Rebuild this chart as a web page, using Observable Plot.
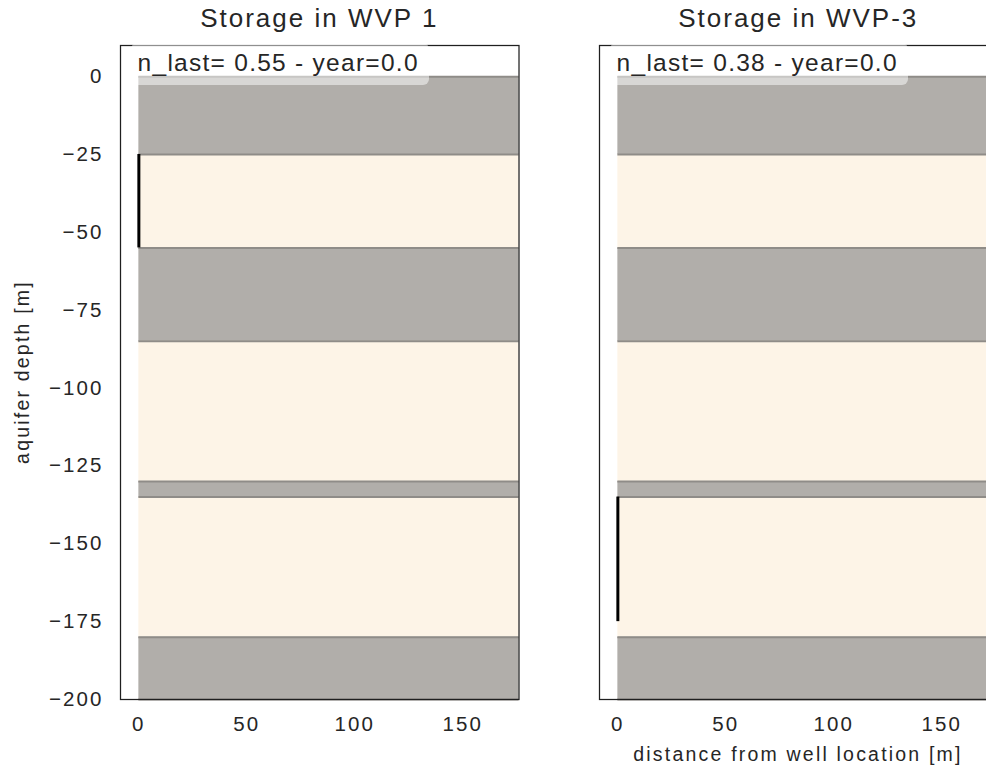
<!DOCTYPE html>
<html><head><meta charset="utf-8">
<script src="https://cdn.jsdelivr.net/npm/d3@7"></script>
<script src="https://cdn.jsdelivr.net/npm/@observablehq/plot@0.6"></script>
<style>
html,body{margin:0;padding:0;background:#fff;}
#fig{position:relative;width:986px;height:769px;overflow:hidden;font-family:'Liberation Sans',Arial,sans-serif;color:#262626;}
#fig svg{position:absolute;top:0;}
.title{position:absolute;top:5px;font-size:26px;line-height:26px;letter-spacing:2px;text-align:center;white-space:nowrap;}
.legend{position:absolute;top:43px;height:42px;box-sizing:border-box;padding:6.7px 10px 0 6.6px;font-size:24.5px;line-height:25px;letter-spacing:1.27px;background:rgba(255,255,255,0.5);border-radius:6px;white-space:nowrap;}
.axlabel{position:absolute;font-size:19.5px;line-height:20px;letter-spacing:2.2px;text-align:center;white-space:nowrap;}
</style></head>
<body><div id="fig"></div>
<script>
// ---- data ----
const panelTitles = ["Storage in WVP 1", "Storage in WVP-3"];
const nLast = [0.55, 0.38];
const years = [0.0, 0.0];
const screenTop = [-25, -135];
const screenBottom = [-55, -175];
const layerTop = [0, -25, -55, -85, -130, -135, -180];
const layerBottom = [-25, -55, -85, -130, -135, -180, -200];
const layerKind = ["clay", "aquifer", "clay", "aquifer", "clay", "aquifer", "clay"];
const layerXStart = 0;
const layerXEnd = 176;
const xTicks = [0, 50, 100, 150];
const yTicks = [0, -25, -50, -75, -100, -125, -150, -175, -200];
const xLabel = "distance from well location [m]";
const yLabel = "aquifer depth [m]";

// ---- derived tables ----
const layers = layerTop.map((t, i) => ({top: t, bottom: layerBottom[i], kind: layerKind[i]}));
const edges = layers.filter(d => d.kind === "clay").flatMap(d => [d.top, d.bottom]);
const fmt = d => d < 0 ? "\u2212" + (-d) : String(d);

const fig = document.getElementById("fig");
const panelLeft = [120, 599];
const panelWidth = 398.5;

function panel(i) {
  const first = i === 0;
  const mLeft = first ? 120 : 20;
  const svg = Plot.plot({
    width: mLeft + panelWidth + 1.5,
    height: 769,
    marginLeft: mLeft,
    marginRight: 1.5,
    marginTop: 45,
    marginBottom: 70,
    style: {
      fontFamily: "'Liberation Sans', Arial, sans-serif",
      fontSize: "20.5px",
      letterSpacing: "2.1px",
      color: "#262626",
      background: "transparent",
      overflow: "visible"
    },
    x: {domain: [-8.5, 176], ticks: xTicks, tickSize: 0, tickPadding: 17, label: null},
    y: first
      ? {domain: [-200, 10], ticks: yTicks, tickSize: 0, tickPadding: 17, label: null, tickFormat: fmt}
      : {domain: [-200, 10], axis: null},
    color: {domain: ["clay", "aquifer"], range: ["#b1aeaa", "#fdf4e7"]},
    marks: [
      Plot.rect(layers, {x1: () => layerXStart, x2: () => layerXEnd, y1: "top", y2: "bottom", fill: "kind"}),
      Plot.ruleY(edges, {x1: () => layerXStart, x2: () => layerXEnd, stroke: "#8f8c88", strokeWidth: 2}),
      Plot.ruleX([{top: screenTop[i], bottom: screenBottom[i]}], {x: () => 0, y1: "top", y2: "bottom", stroke: "#000", strokeWidth: 3}),
      Plot.frame({stroke: "#1f1f1f", strokeWidth: 1.25})
    ]
  });
  svg.style.left = (panelLeft[i] - mLeft) + "px";
  fig.appendChild(svg);

  const t = document.createElement("div");
  t.className = "title";
  t.style.left = panelLeft[i] + "px";
  t.style.width = panelWidth + "px";
  t.textContent = panelTitles[i];
  fig.appendChild(t);

  const lg = document.createElement("div");
  lg.className = "legend";
  lg.style.left = (panelLeft[i] + 11) + "px";
  lg.textContent = "n_last= " + nLast[i].toFixed(2) + " - year=" + years[i].toFixed(1);
  fig.appendChild(lg);
}
panel(0);
panel(1);

const yl = document.createElement("div");
yl.className = "axlabel";
yl.style.width = "300px";
yl.style.left = (22.3 - 150) + "px";
yl.style.top = (372 - 10) + "px";
yl.style.transform = "rotate(-90deg)";
yl.textContent = yLabel;
fig.appendChild(yl);

const xl = document.createElement("div");
xl.className = "axlabel";
xl.style.width = "400px";
xl.style.left = (798 - 200) + "px";
xl.style.top = "744px";
xl.textContent = xLabel;
fig.appendChild(xl);
</script></body></html>
